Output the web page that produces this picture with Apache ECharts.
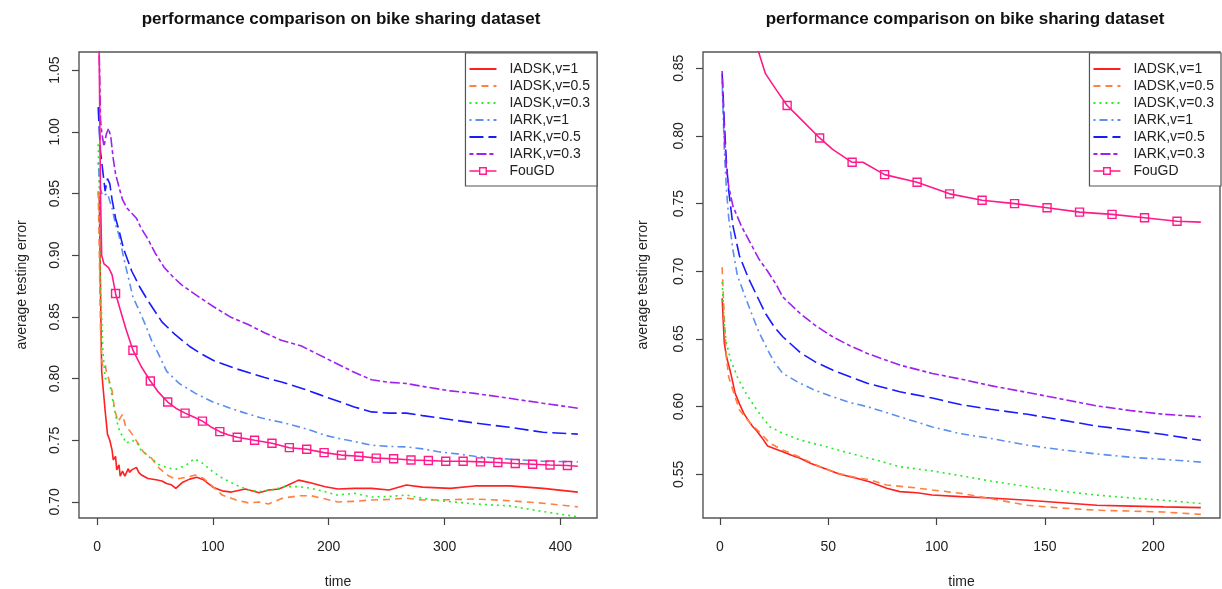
<!DOCTYPE html>
<html>
<head>
<meta charset="utf-8">
<script src="https://cdn.jsdelivr.net/npm/echarts@6/dist/echarts.min.js"></script>
<style>
  html, body { margin: 0; padding: 0; background: #fff; }
  #chart { width: 1222px; height: 589px; }
</style>
</head>
<body>
<div id="chart"></div>
<script>
// ---- data: [time, average testing error] ----
const seriesNames = ["IADSK,v=1", "IADSK,v=0.5", "IADSK,v=0.3", "IARK,v=1", "IARK,v=0.5", "IARK,v=0.3", "FouGD"];

// left panel
const iadsk1Left = [[1,0.951],[2,0.945],[3,0.87],[4,0.806],[5,0.795],[7,0.774],[9,0.755],[11,0.75],[13,0.742],[14,0.734],[16,0.737],[17,0.726],[19,0.73],[20,0.721],[22,0.725],[24,0.721],[25,0.723],[27,0.727],[28,0.724],[30,0.726],[34,0.728],[36,0.724],[38,0.722],[44,0.719],[51,0.718],[56,0.717],[60,0.715],[64,0.714],[68,0.711],[74,0.716],[80,0.7185],[86,0.720],[92,0.718],[100,0.712],[108,0.709],[116,0.708],[128,0.7105],[140,0.7075],[148,0.7097],[157,0.7105],[165,0.7137],[174,0.7177],[185,0.7153],[197,0.7124],[208,0.7105],[222,0.711],[237,0.711],[252,0.7097],[267,0.7137],[281,0.712],[305,0.711],[326,0.713],[356,0.713],[385,0.711],[415,0.708]];
const iadsk05Left = [[1,0.952],[2,0.90],[3,0.84],[4,0.815],[5,0.81],[7,0.812],[8,0.806],[10,0.80],[13,0.79],[15,0.776],[18,0.765],[20,0.768],[22,0.771],[25,0.760],[28,0.758],[31,0.754],[35,0.748],[40,0.7406],[47,0.7355],[54,0.727],[62,0.721],[68,0.7185],[77,0.720],[85,0.7218],[92,0.719],[100,0.7124],[108,0.7056],[120,0.7016],[131,0.6992],[140,0.700],[148,0.6984],[160,0.703],[174,0.705],[185,0.705],[197,0.7024],[208,0.700],[222,0.7005],[237,0.7016],[252,0.702],[267,0.703],[281,0.7016],[296,0.7016],[326,0.7024],[356,0.701],[385,0.699],[415,0.696]];
const iadsk03Left = [[1,0.99],[2,0.95],[3,0.877],[5,0.823],[7,0.80],[9,0.80],[11,0.796],[14,0.780],[17,0.766],[20,0.7556],[22,0.754],[25,0.7476],[30,0.750],[34,0.7486],[38,0.742],[45,0.7365],[54,0.730],[62,0.7274],[69,0.7266],[77,0.730],[84,0.735],[91,0.7315],[100,0.7245],[108,0.7194],[120,0.7137],[131,0.7097],[140,0.7083],[151,0.7097],[162,0.7124],[174,0.7124],[185,0.711],[197,0.7083],[207,0.7056],[222,0.707],[237,0.704],[252,0.7045],[267,0.7056],[281,0.703],[296,0.701],[326,0.6984],[356,0.6968],[385,0.6922],[415,0.688]];
const iark1Left = [[1,0.975],[2,0.962],[3,0.953],[5,0.948],[7,0.949],[9,0.95],[11,0.944],[13,0.938],[16,0.925],[19,0.916],[23,0.898],[27,0.882],[31,0.866],[36,0.856],[42,0.843],[47,0.831],[53,0.82],[60,0.806],[71,0.796],[85,0.788],[100,0.781],[115,0.776],[128,0.772],[142,0.768],[157,0.765],[170,0.762],[185,0.758],[197,0.754],[208,0.7516],[222,0.749],[237,0.746],[252,0.745],[267,0.7446],[281,0.743],[296,0.7405],[311,0.739],[326,0.737],[356,0.7347],[385,0.733],[415,0.7325]];
const iark05Left = [[1,1.02],[2,1.0],[3,0.984],[5,0.968],[7,0.952],[9,0.962],[11,0.958],[13,0.945],[16,0.93],[19,0.92],[23,0.905],[30,0.887],[37,0.874],[44,0.863],[56,0.846],[67,0.836],[80,0.826],[90,0.82],[101,0.8145],[120,0.808],[144,0.801],[160,0.797],[177,0.792],[192,0.787],[207,0.782],[222,0.777],[237,0.773],[252,0.772],[267,0.772],[281,0.770],[296,0.768],[326,0.764],[356,0.7605],[385,0.7565],[415,0.755]];
const iark03Left = [[1,1.10],[2,1.06],[3,1.01],[4,1.0],[6,0.988],[8,0.998],[10,1.003],[12,0.995],[14,0.978],[16,0.966],[19,0.955],[22,0.945],[26,0.938],[30,0.934],[34,0.930],[38,0.922],[44,0.913],[50,0.902],[58,0.89],[66,0.882],[73,0.876],[85,0.868],[101,0.858],[115,0.85],[130,0.844],[145,0.837],[159,0.831],[176,0.8266],[190,0.82],[205,0.813],[220,0.806],[237,0.799],[252,0.797],[267,0.796],[285,0.793],[305,0.79],[326,0.788],[356,0.784],[385,0.780],[415,0.776]];
const fougdLeft = [[1,1.12],[2,1.05],[3,0.95],[4,0.90],[6,0.893],[10,0.890],[13,0.884],[16,0.869],[20,0.856],[25,0.84],[31,0.823],[38,0.81],[46,0.798],[53,0.789],[61,0.781],[68,0.776],[76,0.772],[83,0.769],[91,0.7655],[98,0.761],[106,0.757],[113,0.7545],[121,0.7525],[136,0.750],[151,0.7476],[166,0.744],[181,0.7427],[196,0.740],[211,0.738],[226,0.737],[241,0.7355],[256,0.735],[271,0.734],[286,0.7336],[301,0.733],[316,0.733],[331,0.7325],[346,0.732],[361,0.7312],[376,0.7306],[391,0.730],[406,0.7296],[415,0.729]];
const fougdMarksLeft = [16,31,46,61,76,91,106,121,136,151,166,181,196,211,226,241,256,271,286,301,316,331,346,361,376,391,406];

// right panel
const iadsk1Right = [[1,0.680],[2,0.6467],[3,0.637],[5,0.6245],[7,0.6098],[9,0.602],[11,0.595],[13,0.590],[15,0.5855],[17,0.582],[19,0.5778],[22,0.5709],[25,0.569],[29,0.5667],[33,0.564],[37,0.5618],[42,0.558],[48,0.5544],[55,0.5502],[63,0.547],[69,0.5445],[77,0.5397],[83,0.5372],[91,0.5364],[98,0.5347],[111,0.5335],[125,0.5325],[142,0.5308],[158,0.529],[174,0.5271],[190,0.5265],[205,0.5259],[222,0.5254]];
const iadsk05Right = [[1,0.703],[2,0.665],[3,0.636],[4,0.622],[6,0.612],[9,0.5975],[14,0.5877],[18,0.5815],[23,0.573],[29,0.568],[37,0.5625],[47,0.555],[55,0.5505],[63,0.5475],[69,0.546],[77,0.5421],[90,0.540],[98,0.5384],[111,0.536],[125,0.532],[142,0.5271],[158,0.525],[174,0.5234],[190,0.5228],[205,0.5221],[222,0.5204]];
const iadsk03Right = [[1,0.692],[2,0.659],[3,0.6467],[5,0.6343],[8,0.622],[12,0.6098],[17,0.5975],[23,0.5851],[29,0.5803],[37,0.5753],[49,0.5704],[60,0.5655],[72,0.5606],[83,0.5556],[98,0.5525],[111,0.549],[125,0.545],[142,0.5408],[158,0.5375],[174,0.5346],[190,0.5325],[205,0.5308],[222,0.5284]];
const iark1Right = [[1,0.84],[2,0.79],[3,0.76],[4,0.74],[6,0.7155],[8,0.697],[11,0.684],[15,0.667],[18,0.655],[22,0.642],[25,0.633],[29,0.6245],[37,0.6172],[44,0.612],[52,0.6073],[60,0.603],[68,0.600],[83,0.5925],[98,0.585],[111,0.580],[125,0.5765],[142,0.5715],[158,0.568],[174,0.565],[190,0.5625],[205,0.561],[222,0.559]];
const iark05Right = [[1,0.846],[2,0.81],[3,0.78],[4,0.76],[6,0.7334],[9,0.7113],[13,0.6954],[17,0.682],[21,0.6688],[25,0.659],[29,0.6516],[37,0.640],[44,0.633],[52,0.627],[60,0.622],[68,0.6172],[83,0.611],[98,0.6063],[111,0.6015],[125,0.598],[142,0.5943],[158,0.590],[174,0.5856],[190,0.5825],[205,0.5794],[222,0.5751]];
const iark03Right = [[1,0.848],[2,0.80],[3,0.775],[4,0.763],[6,0.748],[10,0.733],[14,0.721],[18,0.709],[22,0.700],[26,0.69],[29,0.681],[37,0.6688],[44,0.66],[52,0.6516],[60,0.645],[68,0.6393],[83,0.6307],[98,0.6245],[111,0.6204],[125,0.6155],[142,0.6104],[158,0.6055],[174,0.6005],[190,0.597],[205,0.5943],[222,0.5925]];
const fougdRight = [[16,0.875],[18,0.861],[21,0.846],[26,0.834],[31,0.8225],[37,0.813],[46,0.7985],[52,0.790],[61,0.7805],[66,0.7805],[76,0.7714],[91,0.7658],[106,0.7572],[121,0.7525],[136,0.750],[151,0.7469],[166,0.7437],[181,0.742],[196,0.7395],[211,0.737],[222,0.7363]];
const fougdMarksRight = [31,46,61,76,91,106,121,136,151,166,181,196,211];

// tick labels
const xTicksLeft = [0, 100, 200, 300, 400];
const yTicksLeft = [0.70, 0.75, 0.80, 0.85, 0.90, 0.95, 1.00, 1.05];
const xTicksRight = [0, 50, 100, 150, 200];
const yTicksRight = [0.55, 0.60, 0.65, 0.70, 0.75, 0.80, 0.85];

const titleText = "performance comparison on bike sharing dataset";

// ---- styles ----
const font = "'Liberation Sans', Arial, Helvetica, sans-serif";
const styles = [
  { color: "#FF2020", type: "solid" },
  { color: "#FF8040", type: [7, 5] },
  { color: "#22EE22", type: [2, 4] },
  { color: "#5C8FF0", type: [2, 4, 8, 4] },
  { color: "#1A1AFF", type: [14, 5] },
  { color: "#A020F0", type: [4, 3, 10, 3] },
  { color: "#FF1A8C", type: "solid" },
];
// legend icon for FouGD: line with a small hollow square (27 x 14 box)
const fougdIcon = "path://M0,0 L0.01,0 L0.01,14 L0,14 Z M0,6.3 L9.5,6.3 L9.5,7.7 L0,7.7 Z M9.5,3 L17.5,3 L17.5,11 L9.5,11 Z M10.9,4.4 L10.9,9.6 L16.1,9.6 L16.1,4.4 Z M17.5,6.3 L27,6.3 L27,7.7 L17.5,7.7 Z";

const chart = echarts.init(document.getElementById("chart"));

function lineSeries(idx, data, gridIdx) {
  return {
    name: seriesNames[idx],
    type: "line",
    xAxisIndex: gridIdx,
    yAxisIndex: gridIdx,
    data: data,
    symbol: "none",
    clip: true,
    lineStyle: { color: styles[idx].color, type: styles[idx].type, width: 1.6 },
    itemStyle: { color: styles[idx].color },
    animation: false,
  };
}

function fougdSeries(data, marks, gridIdx) {
  const markSet = new Set(marks);
  const s = lineSeries(6, data.map(p => markSet.has(p[0]) ? { value: p } : { value: p, symbol: "none" }), gridIdx);
  s.symbol = "rect";
  s.symbolSize = 8;
  s.showAllSymbol = true;
  s.itemStyle = { color: "rgba(255,255,255,0)", borderColor: styles[6].color, borderWidth: 1.4 };
  return s;
}

function xAxis(gridIdx, min, max, ticks) {
  return {
    type: "value", gridIndex: gridIdx, min: min, max: max,
    name: "time", nameLocation: "middle", nameGap: 57,
    nameTextStyle: { fontFamily: font, fontSize: 14, color: "#222" },
    axisLine: { show: false, onZero: false },
    splitLine: { show: false },
    axisTick: { show: true, length: 7, customValues: ticks, lineStyle: { color: "#444", width: 1.2 } },
    axisLabel: { customValues: ticks, margin: 22, fontFamily: font, fontSize: 14, color: "#222", formatter: v => String(v) },
  };
}

function yAxis(gridIdx, min, max, ticks, gap) {
  return {
    type: "value", gridIndex: gridIdx, min: min, max: max,
    name: "average testing error", nameLocation: "middle", nameGap: gap,
    nameTextStyle: { fontFamily: font, fontSize: 14, color: "#222" },
    axisLine: { show: false, onZero: false },
    splitLine: { show: false },
    axisTick: { show: true, length: 7, customValues: ticks, lineStyle: { color: "#444", width: 1.2 } },
    axisLabel: { customValues: ticks, rotate: 90, margin: 17, fontFamily: font, fontSize: 14, color: "#222", formatter: v => v.toFixed(2) },
  };
}

function legend(right) {
  return {
    orient: "vertical", right: right, top: 53,
    data: seriesNames.map((n, i) => i === 6
      ? { name: n, icon: fougdIcon, itemStyle: { color: styles[6].color, borderWidth: 0 } }
      : { name: n, itemStyle: { opacity: 0 } }),
    itemWidth: 27, itemHeight: 14, itemGap: 3,
    padding: [9, 7, 8, 3],
    borderColor: "#555", borderWidth: 1.2, borderRadius: 0,
    backgroundColor: "#fff",
    selectedMode: false,
    textStyle: { fontFamily: font, fontSize: 14, color: "#222", lineHeight: 14, padding: [0, 0, 0, 8] },
  };
}

const options = {
  backgroundColor: "#fff",
  animation: false,
  title: [
    { text: titleText, left: 336, top: 6, textAlign: "center", textStyle: { fontFamily: font, fontSize: 17, fontWeight: "bold", color: "#111" } },
    { text: titleText, left: 960, top: 6, textAlign: "center", textStyle: { fontFamily: font, fontSize: 17, fontWeight: "bold", color: "#111" } },
  ],
  legend: [legend(625), legend(1)],
  grid: [
    { left: 79, top: 52, width: 518, height: 466, show: true, borderColor: "#555", borderWidth: 1.4, outerBoundsMode: "none", containLabel: false },
    { left: 703, top: 52, width: 517, height: 466, show: true, borderColor: "#555", borderWidth: 1.4, outerBoundsMode: "none", containLabel: false },
  ],
  xAxis: [xAxis(0, -15.56, 431.56, xTicksLeft), xAxis(1, -7.84, 230.84, xTicksRight)],
  yAxis: [yAxis(0, 0.687, 1.0647, yTicksLeft, 50), yAxis(1, 0.5177, 0.862, yTicksRight, 53)],
  series: [
    lineSeries(0, iadsk1Left, 0),
    lineSeries(1, iadsk05Left, 0),
    lineSeries(2, iadsk03Left, 0),
    lineSeries(3, iark1Left, 0),
    lineSeries(4, iark05Left, 0),
    lineSeries(5, iark03Left, 0),
    fougdSeries(fougdLeft, fougdMarksLeft, 0),
    lineSeries(0, iadsk1Right, 1),
    lineSeries(1, iadsk05Right, 1),
    lineSeries(2, iadsk03Right, 1),
    lineSeries(3, iark1Right, 1),
    lineSeries(4, iark05Right, 1),
    lineSeries(5, iark03Right, 1),
    fougdSeries(fougdRight, fougdMarksRight, 1),
  ],
};

chart.setOption(options);
window.addEventListener("resize", () => chart.resize());
</script>
</body>
</html>
